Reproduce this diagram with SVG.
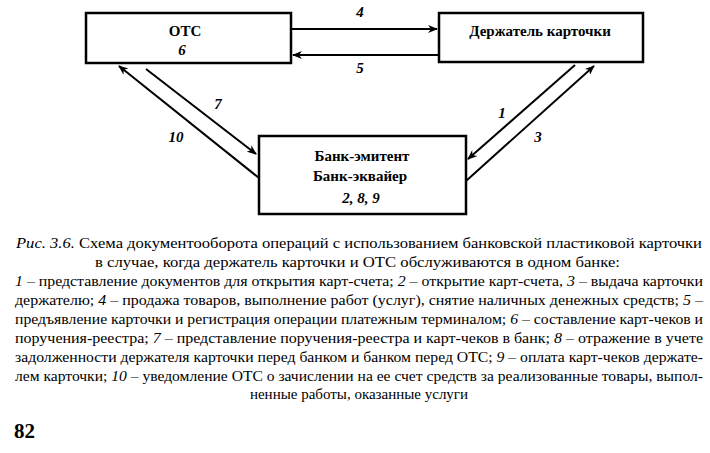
<svg xmlns="http://www.w3.org/2000/svg" width="710" height="453" viewBox="0 0 710 453">
<style>
.box{fill:#fff;stroke:#000;stroke-width:2.5}
.n{font-family:"Times New Roman","Liberation Serif","DejaVu Serif",serif;font-size:15px;font-weight:bold;text-anchor:middle}
.i{font-style:italic}
.l{stroke:#000;stroke-width:2;fill:none;marker-end:url(#a)}
.c{font-family:"Times New Roman","Liberation Serif","DejaVu Serif",serif;font-size:15px}
</style>
<defs><marker id="a" markerWidth="10" markerHeight="8" refX="9" refY="4" orient="auto" markerUnits="userSpaceOnUse"><path d="M0,0L10,4L0,8L3,4z"/></marker></defs>
<rect width="710" height="453" fill="#fff"/>
<g id="otc"><rect class="box" x="86" y="13" width="205" height="50"/><text class="n" x="185" y="36">ОТС</text><text class="n i" x="182" y="55">6</text></g>
<g id="holder"><rect class="box" x="439" y="13" width="204" height="49"/><text class="n" x="540" y="36">Держатель карточки</text></g>
<g id="bank"><rect class="box" x="259" y="136" width="207" height="78"/><text class="n" x="362" y="161">Банк-эмитент</text><text class="n" x="360" y="181">Банк-эквайер</text><text class="n i" x="361" y="203">2, 8, 9</text></g>
<g id="connectors">
<line class="l" x1="291" y1="29" x2="437" y2="29"/>
<line class="l" x1="439" y1="55" x2="293" y2="55"/>
<line class="l" x1="259" y1="178" x2="119" y2="66"/>
<line class="l" x1="146" y1="69" x2="256" y2="154"/>
<line class="l" x1="575" y1="65" x2="468" y2="159"/>
<line class="l" x1="466" y1="181" x2="594" y2="66"/>
<text class="n i" x="360" y="17">4</text>
<text class="n i" x="360" y="73">5</text>
<text class="n i" x="218" y="109">7</text>
<text class="n i" x="176" y="142">10</text>
<text class="n i" x="502" y="118">1</text>
<text class="n i" x="538" y="142">3</text>
</g>
<g class="c">
<text x="16" y="248" textLength="686" lengthAdjust="spacingAndGlyphs"><tspan font-style="italic">Рис. 3.6.</tspan> Схема документооборота операций с использованием банковской пластиковой карточки</text>
<text x="95" y="267" textLength="525" lengthAdjust="spacingAndGlyphs">в случае, когда держатель карточки и ОТС обслуживаются в одном банке:</text>
<text x="15" y="286" textLength="688" lengthAdjust="spacingAndGlyphs"><tspan font-style="italic">1</tspan> – представление документов для открытия карт-счета; <tspan font-style="italic">2</tspan> – открытие карт-счета, <tspan font-style="italic">3</tspan> – выдача карточки</text>
<text x="15" y="305" textLength="688" lengthAdjust="spacingAndGlyphs">держателю; <tspan font-style="italic">4</tspan> – продажа товаров, выполнение работ (услуг), снятие наличных денежных средств; <tspan font-style="italic">5</tspan> –</text>
<text x="15" y="324" textLength="688" lengthAdjust="spacingAndGlyphs">предъявление карточки и регистрация операции платежным терминалом; <tspan font-style="italic">6</tspan> – составление карт-чеков и</text>
<text x="15" y="343" textLength="688" lengthAdjust="spacingAndGlyphs">поручения-реестра; <tspan font-style="italic">7</tspan> – представление поручения-реестра и карт-чеков в банк; <tspan font-style="italic">8</tspan> – отражение в учете</text>
<text x="15" y="362" textLength="688" lengthAdjust="spacingAndGlyphs">задолженности держателя карточки перед банком и банком перед ОТС; <tspan font-style="italic">9</tspan> – оплата карт-чеков держате-</text>
<text x="15" y="381" textLength="688" lengthAdjust="spacingAndGlyphs">лем карточки; <tspan font-style="italic">10</tspan> – уведомление ОТС о зачислении на ее счет средств за реализованные товары, выпол-</text>
<text x="359" y="399" text-anchor="middle">ненные работы, оказанные услуги</text>
</g>
<text x="14" y="438" font-family="Times New Roman,Liberation Serif,DejaVu Serif,serif" font-size="21" font-weight="bold">82</text>
</svg>
